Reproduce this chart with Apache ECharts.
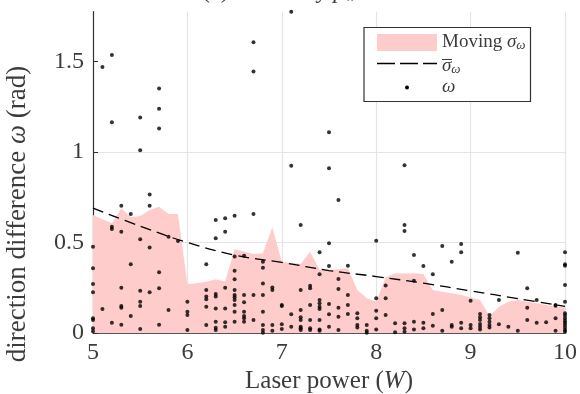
<!DOCTYPE html>
<html>
<head>
<meta charset="utf-8">
<script src="https://cdn.jsdelivr.net/npm/echarts@6/dist/echarts.min.js"></script>
<style>
  html, body { margin: 0; padding: 0; background: #fff; }
  #chart { width: 580px; height: 394px; }
</style>
</head>
<body>
<div id="chart"></div>
<script>
// Laser power levels (W) at which direction differences were recorded
const omegaPower = [5.0, 5.1, 5.2, 5.3, 5.4, 5.5, 5.6, 5.7, 5.8, 5.9,
  6.0, 6.2, 6.3, 6.4, 6.5, 6.6, 6.7, 6.8, 6.9,
  7.0, 7.1, 7.2, 7.3, 7.4, 7.5, 7.6, 7.7, 7.8, 7.9,
  8.0, 8.1, 8.2, 8.3, 8.4, 8.5, 8.6, 8.7, 8.8, 8.9,
  9.0, 9.1, 9.2, 9.3, 9.4, 9.5, 9.6, 9.7, 9.8, 9.9, 10.0];

// Direction difference ω (rad) for each power level, same order as omegaPower
const omegaValues = [
  [0.477, 0.357, 0.271, 0.225, 0.081, 0.072, 0.026, 0.010],
  [1.470, 0.133],
  [1.536, 1.164, 0.587, 0.575, 0.057],
  [0.703, 0.560, 0.250, 0.149, 0.140, 0.046],
  [0.657, 0.380, 0.094],
  [1.190, 1.009, 0.518, 0.234, 0.173, 0.149, 0.022],
  [0.765, 0.703, 0.473, 0.225],
  [1.350, 1.239, 1.129, 0.335, 0.247, 0.046],
  [0.532, 0.127],
  [0.508],
  [0.173, 0.118, 0.100, 0.017],
  [0.380, 0.238, 0.201, 0.186, 0.145, 0.044],
  [0.624, 0.523, 0.215, 0.201, 0.136, 0.062, 0.029, 0.017],
  [0.634, 0.560, 0.250, 0.136, 0.059, 0.035],
  [0.648, 0.422, 0.344, 0.297, 0.238, 0.210, 0.197, 0.182, 0.155, 0.118, 0.062],
  [0.427, 0.210, 0.170, 0.118, 0.094, 0.081, 0.062],
  [1.606, 1.444, 0.657, 0.210, 0.072],
  [0.394, 0.361, 0.274, 0.210, 0.118, 0.044, 0.017, 0.002],
  [0.252, 0.238, 0.044, 0.013],
  [0.155, 0.149, 0.048, 0.022],
  [1.775, 0.924, 0.103, 0.035],
  [0.597, 0.238, 0.127, 0.087, 0.072, 0.035, 0.026, 0.017],
  [0.261, 0.247, 0.155, 0.072, 0.026, 0.017],
  [0.446, 0.324, 0.182, 0.164, 0.145, 0.133, 0.072, 0.020, 0.013],
  [1.109, 0.910, 0.496, 0.370, 0.160, 0.103, 0.035],
  [0.735, 0.298, 0.243, 0.140, 0.090, 0.017],
  [0.372, 0.210, 0.155, 0.105],
  [0.109, 0.081, 0.044, 0.031],
  [0.044, 0.013, 0.002],
  [0.510, 0.192, 0.123, 0.081, 0.020],
  [0.263, 0.192, 0.100],
  [0.054, 0.004],
  [0.926, 0.597, 0.564, 0.054, 0.026, 0.007],
  [0.431, 0.289, 0.062, 0.020],
  [0.370, 0.057, 0.026],
  [0.324, 0.105, 0.040],
  [0.481, 0.127, 0.013],
  [0.394, 0.044, 0.035],
  [0.492, 0.446, 0.057, 0.026],
  [0.178, 0.044, 0.026],
  [0.105, 0.087, 0.072, 0.050, 0.035, 0.020],
  [0.100, 0.081, 0.062, 0.044, 0.031],
  [0.182, 0.048],
  [0.035],
  [0.444, 0.013],
  [0.247, 0.140, 0.072],
  [0.182, 0.057],
  [0.059],
  [0.155, 0.150, 0.081, 0.013],
  [0.446, 0.380, 0.372, 0.265, 0.173, 0.109, 0.096, 0.081, 0.068, 0.057, 0.044, 0.031, 0.017, 0.007]
];

// Moving standard deviation of ω along the power axis
const sigmaPower = [5.0, 5.1, 5.2, 5.3, 5.4, 5.5, 5.6, 5.7, 5.8, 5.9,
  6.0, 6.1, 6.2, 6.3, 6.4, 6.5, 6.6, 6.7, 6.8, 6.9,
  7.0, 7.1, 7.2, 7.3, 7.4, 7.5, 7.6, 7.7, 7.8, 7.9,
  8.0, 8.1, 8.2, 8.3, 8.4, 8.5, 8.6, 8.7, 8.8, 8.9,
  9.0, 9.1, 9.2, 9.3, 9.4, 9.5, 9.6, 9.7, 9.8, 9.9, 10.0];
const movingSigma = [0.652, 0.628, 0.606, 0.689, 0.639, 0.646, 0.680, 0.698, 0.657, 0.657,
  0.270, 0.275, 0.283, 0.297, 0.285, 0.462, 0.450, 0.436, 0.440, 0.584,
  0.394, 0.388, 0.381, 0.449, 0.350, 0.348, 0.352, 0.357, 0.238, 0.192,
  0.173, 0.308, 0.330, 0.328, 0.330, 0.326, 0.238, 0.228, 0.219, 0.210,
  0.197, 0.182, 0.094, 0.145, 0.173, 0.182, 0.173, 0.164, 0.155, 0.145, 0.142];

// Fitted mean deviation σ̄ω
const fitPower = [5.0, 5.5, 6.0, 6.5, 7.0, 7.5, 8.0, 8.5, 9.0, 9.5, 10.0];
const fitSigma = [0.690, 0.590, 0.500, 0.430, 0.390, 0.345, 0.312, 0.275, 0.233, 0.190, 0.147];

// Axis ticks
const xTicks = [5, 6, 7, 8, 9, 10];
const yTicks = [0, 0.5, 1, 1.5];

const FONT = 'Liberation Serif';
const TXT = '#3c3c3c';
const TICK_SIZE = 24;
const TITLE_SIZE = 25;
const LEGEND_SIZE = 19;

const scatterData = [];
omegaPower.forEach((p, i) => omegaValues[i].forEach(v => scatterData.push([p, v])));
const areaData = sigmaPower.map((p, i) => [p, movingSigma[i]]);
const fitData = fitPower.map((p, i) => [p, fitSigma[i]]);

const chart = echarts.init(document.getElementById('chart'), null, { renderer: 'canvas' });

const legendX = 364, legendY = 27.5;

chart.setOption({
  animation: false,
  backgroundColor: '#fff',
  grid: { left: 93, right: 13.5, top: 11.5, bottom: 61, containLabel: false },
  xAxis: {
    type: 'value',
    min: xTicks[0],
    max: xTicks[xTicks.length - 1],
    interval: 1,
    axisLine: { lineStyle: { color: '#555', width: 1.2 } },
    axisTick: { inside: true, length: 4, lineStyle: { color: '#555' } },
    axisLabel: { fontFamily: FONT, fontSize: TICK_SIZE, color: TXT, margin: 8 },
    splitLine: { show: true, lineStyle: { color: '#e4e4e4', width: 1.2 } }
  },
  yAxis: {
    type: 'value',
    min: 0,
    max: 1.776,
    interval: 0.5,
    axisLine: { show: true, lineStyle: { color: '#333', width: 1.2 } },
    axisTick: { inside: true, length: 5, customValues: yTicks, lineStyle: { color: '#333' } },
    axisLabel: {
      fontFamily: FONT, fontSize: TICK_SIZE, color: TXT, margin: 9,
      customValues: yTicks,
      formatter: v => String(v)
    },
    splitLine: { show: true, showMaxLine: false, lineStyle: { color: '#e4e4e4', width: 1.2 } }
  },
  series: [
    {
      name: 'Moving σω',
      type: 'line',
      data: areaData,
      showSymbol: false,
      symbol: 'none',
      lineStyle: { width: 0 },
      areaStyle: { color: '#ffcccc', opacity: 1 },
      silent: true,
      z: 1
    },
    {
      name: 'σ̄ω',
      type: 'line',
      data: fitData,
      smooth: 0.4,
      showSymbol: false,
      symbol: 'none',
      lineStyle: { color: '#000', width: 1.3, type: [11, 6] },
      silent: true,
      z: 3
    },
    {
      name: 'ω',
      type: 'scatter',
      data: scatterData,
      symbol: 'circle',
      symbolSize: 4,
      itemStyle: { color: '#000' },
      silent: true,
      z: 4
    }
  ],
  graphic: [
    // title, mostly above the canvas edge
    {
      type: 'text', x: 202, y: -8, z: 10,
      style: {
        text: '{n|(c) Sorted by }{i|p}{s|w}',
        textVerticalAlign: 'middle',
        rich: {
          n: { fontFamily: FONT, fontSize: TICK_SIZE, fill: TXT },
          i: { fontFamily: FONT, fontSize: TICK_SIZE, fontStyle: 'italic', fill: TXT },
          s: { fontFamily: FONT, fontSize: 16, fontStyle: 'italic', fill: TXT, padding: [10, 0, 0, 0] }
        }
      }
    },
    // axis titles
    {
      type: 'text', x: 329, y: 381, z: 10,
      style: {
        text: '{n|Laser power (}{i|W}{n|)}',
        textAlign: 'center', textVerticalAlign: 'middle',
        rich: {
          n: { fontFamily: FONT, fontSize: TITLE_SIZE, fill: TXT },
          i: { fontFamily: FONT, fontSize: TITLE_SIZE, fontStyle: 'italic', fill: TXT }
        }
      }
    },
    {
      type: 'text', x: 18, y: 214, rotation: Math.PI / 2, z: 10,
      style: {
        text: '{n|direction difference }{i|ω}{n| (rad)}',
        textAlign: 'center', textVerticalAlign: 'middle',
        rich: {
          n: { fontFamily: FONT, fontSize: 27, fill: TXT },
          i: { fontFamily: FONT, fontSize: 27, fontStyle: 'italic', fill: TXT }
        }
      }
    },
    // legend box
    {
      type: 'rect', z: 20,
      shape: { x: legendX, y: legendY, width: 166.5, height: 74 },
      style: { fill: '#fff', stroke: '#333', lineWidth: 1.2 }
    },
    {
      type: 'rect', z: 21,
      shape: { x: legendX + 13, y: legendY + 6.5, width: 60, height: 17 },
      style: { fill: '#ffcccc' }
    },
    {
      type: 'text', x: legendX + 78, y: legendY + 14.5, z: 21,
      style: {
        text: '{n|Moving }{i|σ}{s|ω}',
        textVerticalAlign: 'middle',
        rich: {
          n: { fontFamily: FONT, fontSize: LEGEND_SIZE, fill: TXT },
          i: { fontFamily: FONT, fontSize: LEGEND_SIZE, fontStyle: 'italic', fill: TXT },
          s: { fontFamily: FONT, fontSize: 13, fontStyle: 'italic', fill: TXT, padding: [8, 0, 0, 0] }
        }
      }
    },
    {
      type: 'line', z: 21,
      shape: { x1: legendX + 13, y1: legendY + 36, x2: legendX + 73, y2: legendY + 36 },
      style: { stroke: '#000', lineWidth: 1.3, lineDash: [18, 5] }
    },
    {
      type: 'text', x: legendX + 78, y: legendY + 38, z: 21,
      style: {
        text: '{i|σ}{s|ω}',
        textVerticalAlign: 'middle',
        rich: {
          i: { fontFamily: FONT, fontSize: LEGEND_SIZE, fontStyle: 'italic', fill: TXT },
          s: { fontFamily: FONT, fontSize: 13, fontStyle: 'italic', fill: TXT, padding: [8, 0, 0, 0] }
        }
      }
    },
    {
      type: 'line', z: 21,
      shape: { x1: legendX + 78, y1: legendY + 32, x2: legendX + 88, y2: legendY + 32 },
      style: { stroke: TXT, lineWidth: 1 }
    },
    {
      type: 'circle', z: 21,
      shape: { cx: legendX + 43, cy: legendY + 60, r: 2 },
      style: { fill: '#000' }
    },
    {
      type: 'text', x: legendX + 78, y: legendY + 59, z: 21,
      style: {
        text: 'ω',
        textVerticalAlign: 'middle',
        fontFamily: FONT, fontSize: LEGEND_SIZE, fontStyle: 'italic', fill: TXT
      }
    }
  ]
});
</script>
</body>
</html>
